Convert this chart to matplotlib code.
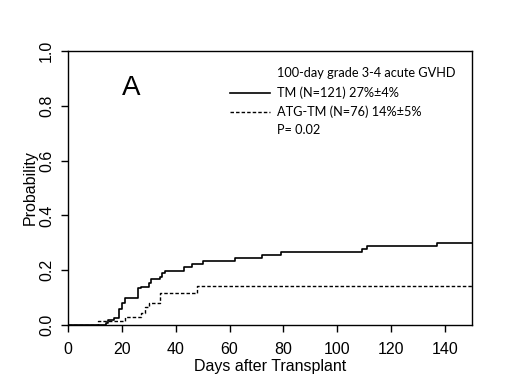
import matplotlib
matplotlib.use("Agg")
import matplotlib.pyplot as plt

# cumulative incidence
tm_days = [0, 14, 15, 17, 19, 20, 21, 26, 27, 30, 31, 34, 35, 36, 43, 46, 50, 62, 72, 79, 109, 111, 137, 150]
tm_prob = [0, 0.008, 0.017, 0.025, 0.058, 0.08, 0.10, 0.135, 0.14, 0.153, 0.168, 0.175, 0.19, 0.197,
           0.21, 0.222, 0.234, 0.245, 0.255, 0.266, 0.277, 0.288, 0.298, 0.298]
atg_days = [0, 11, 21, 27, 28.5, 30, 34, 48, 150]
atg_prob = [0, 0.014, 0.03, 0.045, 0.066, 0.081, 0.118, 0.143, 0.143]

x_ticks = list(range(0, 141, 20))
y_ticks = [0.0, 0.2, 0.4, 0.6, 0.8, 1.0]
legend_title = "100-day grade 3-4 acute GVHD"
legend_labels = ["TM (N=121) 27%\u00b14%", "ATG-TM (N=76) 14%\u00b15%"]
p_text = "P= 0.02"

plt.rcParams['font.family'] = ['Liberation Sans', 'DejaVu Sans']

fig = plt.figure(figsize=(5.2, 3.9), dpi=100)
ax = fig.add_axes([68 / 520, 65 / 390, 404 / 520, 274 / 390])

ax.step(tm_days, tm_prob, where='post', color='black', lw=1.2, zorder=1)
ax.step(atg_days, atg_prob, where='post', color='black', lw=1.0, dashes=(2.5, 1.5), zorder=1)

ax.set_xlim(0, 150)
ax.set_ylim(0, 1)
ax.set_xticks(x_ticks)
ax.set_yticks(y_ticks)
ax.set_yticklabels([f"{v:.1f}" for v in y_ticks], rotation=90, va='center')
ax.tick_params(direction='out', length=5, width=1, labelsize=11.5, colors='black')
ax.tick_params(axis='x', pad=7)
ax.tick_params(axis='y', pad=5)
for s in ax.spines.values():
    s.set_linewidth(1)
    s.set_zorder(3)
ax.set_xlabel("Days after Transplant", fontsize=11.5, labelpad=2)
ax.set_ylabel("Probability", fontsize=11.5, labelpad=1)

# panel letter
fig.text(131 / 520, 1 - 88 / 390, "A", fontsize=20, ha='center', va='center')

# legend drawn by hand
lfont = ['Lato', 'DejaVu Sans']
fig.text(277 / 520, 1 - 73 / 390, legend_title, fontsize=9.2, family=lfont, va='center')
fig.text(277 / 520, 1 - 93 / 390, legend_labels[0], fontsize=9.2, family=lfont, va='center')
fig.text(277 / 520, 1 - 112 / 390, legend_labels[1], fontsize=9.2, family=lfont, va='center')
fig.text(277 / 520, 1 - 130 / 390, p_text, fontsize=9.2, family=lfont, va='center')
fig.add_artist(plt.Line2D([230 / 520, 270 / 520], [1 - 93 / 390] * 2, color='black', lw=1.2))
fig.add_artist(plt.Line2D([230 / 520, 270 / 520], [1 - 112 / 390] * 2, color='black', lw=1.0,
                          dashes=(2.5, 1.5)))

fig.savefig("out.png", dpi=100)
